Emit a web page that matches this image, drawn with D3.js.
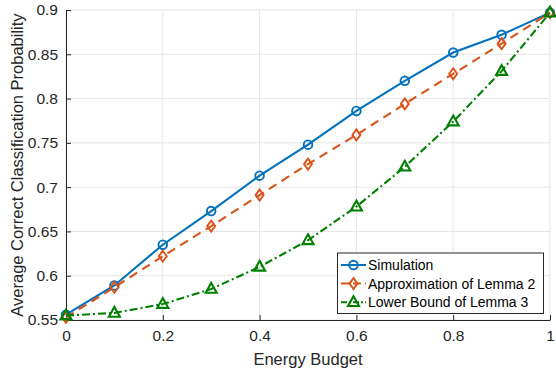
<!DOCTYPE html>
<html>
<head>
<meta charset="utf-8">
<script src="https://cdn.jsdelivr.net/npm/d3@7"></script>
<style>
  body { margin: 0; background: #fff; }
  svg { font-family: "Liberation Sans", Arial, Helvetica, sans-serif; }
</style>
</head>
<body>
<svg id="chart" width="556" height="375"></svg>
<script>
const width = 556;
const height = 375;
const margin = { top: 10, right: 6, bottom: 55, left: 66 };

// Data
const budget = [0, 0.1, 0.2, 0.3, 0.4, 0.5, 0.6, 0.7, 0.8, 0.9, 1.0];
const simulation = [0.556, 0.589, 0.635, 0.673, 0.713, 0.748, 0.786, 0.820, 0.852, 0.872, 0.897];
const approxLemma2 = [0.553, 0.587, 0.622, 0.656, 0.691, 0.726, 0.759, 0.794, 0.828, 0.862, 0.897];
const lowerLemma3 = [0.555, 0.558, 0.568, 0.585, 0.610, 0.640, 0.678, 0.723, 0.774, 0.831, 0.897];

const xTicks = [0, 0.2, 0.4, 0.6, 0.8, 1];
const yTicks = [0.55, 0.6, 0.65, 0.7, 0.75, 0.8, 0.85, 0.9];

const seriesNames = ["Simulation", "Approximation of Lemma 2", "Lower Bound of Lemma 3"];

const series = [
    { name: seriesNames[0], values: simulation, color: "#0072BD", dash: null, marker: "circle" },
    { name: seriesNames[1], values: approxLemma2, color: "#D95319", dash: "9,6", marker: "diamond" },
    { name: seriesNames[2], values: lowerLemma3, color: "#008000", dash: "8,3,2,3", marker: "triangle" }
];

const svg = d3.select("#chart");

const x = d3.scaleLinear()
    .domain([0, 1])
    .range([margin.left, width - margin.right]);

const y = d3.scaleLinear()
    .domain([0.55, 0.9])
    .range([height - margin.bottom, margin.top]);

// Grid
svg.append("g")
    .selectAll("line")
    .data(xTicks)
    .enter()
    .append("line")
    .attr("x1", d => x(d)).attr("x2", d => x(d))
    .attr("y1", y(0.55)).attr("y2", y(0.9))
    .attr("stroke", "#e6e6e6")
    .attr("stroke-width", 1);

svg.append("g")
    .selectAll("line")
    .data(yTicks)
    .enter()
    .append("line")
    .attr("x1", x(0)).attr("x2", x(1))
    .attr("y1", d => y(d)).attr("y2", d => y(d))
    .attr("stroke", "#e6e6e6")
    .attr("stroke-width", 1);

// Axes
const xAxis = svg.append("g")
    .attr("transform", `translate(0,${y(0.55)})`)
    .call(d3.axisBottom(x).tickValues(xTicks).tickFormat(d3.format("")).tickSizeInner(-5).tickSizeOuter(0).tickPadding(10));

const yAxis = svg.append("g")
    .attr("transform", `translate(${x(0)},0)`)
    .call(d3.axisLeft(y).tickValues(yTicks).tickFormat(d3.format("")).tickSizeInner(-5).tickSizeOuter(0).tickPadding(8));

[xAxis, yAxis].forEach(a => {
    a.select(".domain").attr("stroke", "#262626").attr("stroke-width", 1);
    a.selectAll(".tick line").attr("stroke", "#262626");
    a.selectAll("text")
        .attr("fill", "#262626")
        .style("font-size", "15.5px")
        .style("font-family", "'Liberation Sans', Arial, sans-serif");
});

// Axis labels
svg.append("text")
    .attr("x", (x(0) + x(1)) / 2)
    .attr("y", 365)
    .attr("text-anchor", "middle")
    .attr("fill", "#262626")
    .style("font-size", "16.5px")
    .text("Energy Budget");

svg.append("text")
    .attr("transform", "rotate(-90)")
    .attr("x", -(y(0.55) + y(0.9)) / 2)
    .attr("y", 23)
    .attr("text-anchor", "middle")
    .attr("fill", "#262626")
    .style("font-size", "16.5px")
    .text("Average Correct Classification Probability");

// Markers
function drawMarker(g, type, cx, cy, color) {
    if (type === "circle") {
        g.append("circle")
            .attr("cx", cx).attr("cy", cy).attr("r", 4.3)
            .attr("fill", "none").attr("stroke", color).attr("stroke-width", 1.9);
    } else if (type === "diamond") {
        g.append("path")
            .attr("d", `M${cx},${cy - 5.5}L${cx + 4},${cy}L${cx},${cy + 5.5}L${cx - 4},${cy}Z`)
            .attr("fill", "none").attr("stroke", color).attr("stroke-width", 1.9);
    } else {
        g.append("path")
            .attr("d", `M${cx},${cy - 6}L${cx + 5.5},${cy + 3.8}L${cx - 5.5},${cy + 3.8}Z`)
            .attr("fill", "none").attr("stroke", color).attr("stroke-width", 2.1);
    }
}

const line = d3.line()
    .x((d, i) => x(budget[i]))
    .y(d => y(d));

series.forEach(s => {
    const g = svg.append("g");
    g.append("path")
        .datum(s.values)
        .attr("d", line)
        .attr("fill", "none")
        .attr("stroke", s.color)
        .attr("stroke-width", 2.1)
        .attr("stroke-dasharray", s.dash);
    s.values.forEach((v, i) => drawMarker(g, s.marker, x(budget[i]), y(v), s.color));
});

// Legend
const legend = svg.append("g");
legend.append("rect")
    .attr("x", 337.5).attr("y", 253)
    .attr("width", 206).attr("height", 60.5)
    .attr("fill", "#fff")
    .attr("stroke", "#262626")
    .attr("stroke-width", 1);

series.forEach((s, i) => {
    const ly = 265 + i * 18.6;
    legend.append("line")
        .attr("x1", 341).attr("x2", 366)
        .attr("y1", ly).attr("y2", ly)
        .attr("stroke", s.color)
        .attr("stroke-width", 2)
        .attr("stroke-dasharray", s.dash ? (i === 1 ? "8,4" : "6,2,2,2") : null);
    drawMarker(legend, s.marker, 353.5, ly, s.color);
    legend.append("text")
        .attr("x", 368)
        .attr("y", ly + 5)
        .attr("fill", "#000")
        .style("font-size", "14px")
        .text(s.name);
});
</script>
</body>
</html>
